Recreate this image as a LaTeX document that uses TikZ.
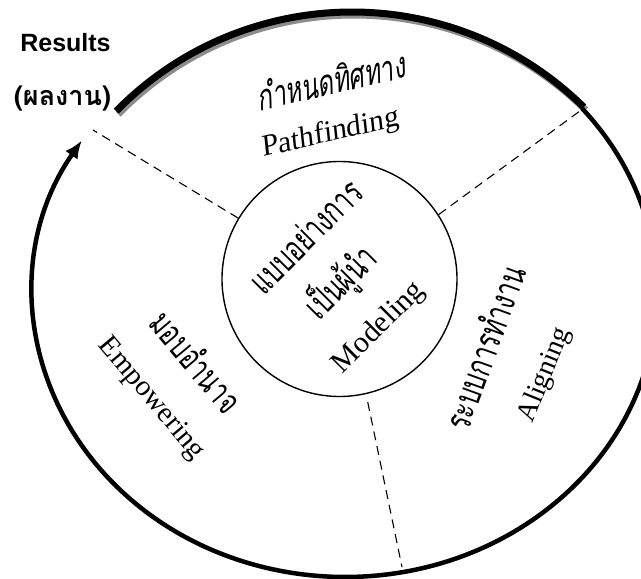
\documentclass[tikz,border=0pt]{standalone}
\usepackage{fontspec}
\setmainfont{Liberation Serif}
\setsansfont{Liberation Sans}
\newfontfamily\thaifont[Script=Thai, FakeStretch=0.68]{Loma}
\newfontfamily\thaislant[Script=Thai, FakeStretch=0.68, FakeSlant=0.2]{Loma}
\newfontfamily\thaibold[Script=Thai]{Loma}
\newfontfamily\slantserif[FakeSlant=0.12]{Liberation Serif}
\usepackage{tikz}
\usetikzlibrary{arrows.meta, positioning, calc}

\begin{document}
\begin{tikzpicture}[
  x=1pt, y=1pt,
  ring/.style={line width=4.5pt},
  topring/.style={line width=7pt},
  divider/.style={dash pattern=on 9pt off 6pt, line width=1.1pt},
  thai/.style={font=\thaifont\fontsize{36}{40}\selectfont},
  eng/.style={font=\fontsize{29}{32}\selectfont},
  result/.style={font=\sffamily\bfseries\fontsize{25}{30}\selectfont}
]
\useasboundingbox (0,0) rectangle (641,579);
\coordinate (ringc) at (345,286);
\coordinate (arcc) at (352,237);
\node[draw, circle, line width=1.4pt, minimum size=235pt, inner sep=0pt] (core) at (339.5,300) {};
% outer ring
\draw[topring, black!45] ([shift={(2,-3)}]arcc) ++(135.6:330pt) arc[start angle=135.6, end angle=45.4, radius=330pt];
\draw[topring] ([shift={(arcc)}]135.6:330pt) arc[start angle=135.6, end angle=45.4, radius=330pt];
\draw[ring, -{Latex[length=18pt, width=15pt]}] ([shift={(ringc)}]40.5:312pt and 284pt)
  arc[start angle=40.5, end angle=-212.5, x radius=312pt, y radius=284pt];
% dividers
\coordinate (cut1) at (93,449);
\coordinate (cut2) at (584,471);
\coordinate (cut3) at (402,12);
\draw[divider] (core.149) -- (cut1);
\draw[divider] (core.33) -- (cut2);
\draw[divider, shorten <=8pt] (core.-77) -- (cut3);
% labels
\node[result] (results) at (65.5,536.5) {Results};
\node[font=\thaibold\bfseries\fontsize{27}{30}\selectfont] (resultsth) at (62.5,480) {(ผลงาน)};
\node[thai, font=\thaislant\fontsize{36}{40}\selectfont, rotate=13] (pathth) at (330,499) {กำหนดทิศทาง};
\node[eng, font=\slantserif\fontsize{30}{34}\selectfont, rotate=13] (path) at (330,445) {Pathfinding};
\node[thai, rotate=45] (modelth) at (305,343) {แบบอย่างการ};
\node[thai, rotate=45] (leader) at (341,296) {เป็นผู้นำ};
\node[eng, font=\fontsize{30}{34}\selectfont, rotate=45] (model) at (379,251) {Modeling};
\node[thai, rotate=-50] (empowerth) at (197,218) {มอบอำนาจ};
\node[eng, rotate=-50] (empower) at (151,180) {Empowering};
\node[thai, rotate=70] (alignth) at (484,232) {ระบบการทำงาน};
\node[eng, font=\fontsize{28}{32}\selectfont, rotate=68] (align) at (545,204) {Aligning};
\end{tikzpicture}
\end{document}
